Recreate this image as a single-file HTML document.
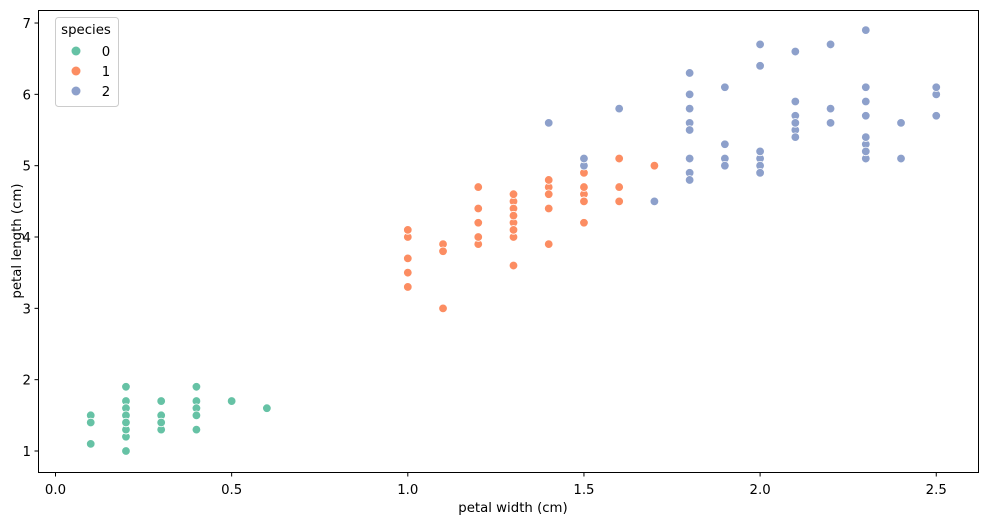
<!DOCTYPE html>
<html><head><meta charset="utf-8"><style>
body{margin:0;background:#fff;}
svg{display:block;font-family:"DejaVu Sans","Liberation Sans",sans-serif;}
</style></head><body>
<svg id="chart" width="988" height="525" xmlns="http://www.w3.org/2000/svg">
<rect x="38.5" y="10.5" width="940" height="462" fill="#fff" stroke="#000" stroke-width="1"/>
<g id="marks"></g><g id="axes"></g>
<text x="513" y="512" font-size="13.3" text-anchor="middle">petal width (cm)</text>
<text transform="translate(21,241) rotate(-90)" font-size="13.3" text-anchor="middle">petal length (cm)</text>
<g>
<rect x="55.5" y="17.5" width="63" height="89" rx="3" fill="#fff" fill-opacity="0.8" stroke="#ccc"/>
<text x="86" y="34" font-size="13.3" text-anchor="middle">species</text>
<g><circle cx="76" cy="51" r="4.5" fill="#66c2a5"/><text x="106" y="56" font-size="13.3" text-anchor="middle">0</text></g>
<g><circle cx="76" cy="71" r="4.5" fill="#fc8d62"/><text x="106" y="76" font-size="13.3" text-anchor="middle">1</text></g>
<g><circle cx="76" cy="91" r="4.5" fill="#8da0cb"/><text x="106" y="96" font-size="13.3" text-anchor="middle">2</text></g>
</g>
</svg>
<script>
const xTicks=[0.0,0.5,1.0,1.5,2.0,2.5];
const xTickLabels=["0.0","0.5","1.0","1.5","2.0","2.5"];
const yTicks=[1,2,3,4,5,6,7];
const yTickLabels=["1","2","3","4","5","6","7"];
const species0W=[.2,.2,.2,.2,.2,.4,.3,.2,.2,.1,.2,.2,.1,.1,.2,.4,.4,.3,.3,.3,.2,.4,.2,.5,.2,.2,.4,.2,.2,.2,.2,.4,.1,.2,.2,.2,.2,.1,.2,.2,.3,.3,.2,.6,.4,.3,.2,.2,.2,.2];
const species0L=[1.4,1.4,1.3,1.5,1.4,1.7,1.4,1.5,1.4,1.5,1.5,1.6,1.4,1.1,1.2,1.5,1.3,1.4,1.7,1.5,1.7,1.5,1.0,1.7,1.9,1.6,1.6,1.5,1.4,1.6,1.6,1.5,1.5,1.4,1.5,1.2,1.3,1.4,1.3,1.5,1.3,1.3,1.3,1.6,1.9,1.4,1.6,1.4,1.5,1.4];
const species1W=[1.4,1.5,1.5,1.3,1.5,1.3,1.6,1.0,1.3,1.4,1.0,1.5,1.0,1.4,1.3,1.4,1.5,1.0,1.5,1.1,1.8,1.3,1.5,1.2,1.3,1.4,1.4,1.7,1.5,1.0,1.1,1.0,1.2,1.6,1.5,1.6,1.5,1.3,1.3,1.3,1.2,1.4,1.2,1.0,1.3,1.2,1.3,1.3,1.1,1.3];
const species1L=[4.7,4.5,4.9,4.0,4.6,4.5,4.7,3.3,4.6,3.9,3.5,4.2,4.0,4.7,3.6,4.4,4.5,4.1,4.5,3.9,4.8,4.0,4.9,4.7,4.3,4.4,4.8,5.0,4.5,3.5,3.8,3.7,3.9,5.1,4.5,4.5,4.7,4.4,4.1,4.0,4.4,4.6,4.0,3.3,4.2,4.2,4.2,4.3,3.0,4.1];
const species2W=[2.5,1.9,2.1,1.8,2.2,2.1,1.7,1.8,1.8,2.5,2.0,1.9,2.1,2.0,2.4,2.3,1.8,2.2,2.3,1.5,2.3,2.0,2.0,1.8,2.1,1.8,1.8,1.8,2.1,1.6,1.9,2.0,2.2,1.5,1.4,2.3,2.4,1.8,1.8,2.1,2.4,2.3,1.9,2.3,2.5,2.3,1.9,2.0,2.3,1.8];
const species2L=[6.0,5.1,5.9,5.6,5.8,6.6,4.5,6.3,5.8,6.1,5.1,5.3,5.5,5.0,5.1,5.3,5.5,6.7,6.9,5.0,5.7,4.9,6.7,4.9,5.7,6.0,4.8,4.9,5.6,5.8,6.1,6.4,5.6,5.1,5.6,6.1,5.6,5.5,4.8,5.4,5.6,5.1,5.1,5.9,5.7,5.2,5.0,5.2,5.4,5.1];
const NS="http://www.w3.org/2000/svg";
function xs(v){return 55.5+v*352.3;}
function ys(v){return 451+(v-1)*-71.33;}
const marks=document.getElementById('marks'), axes=document.getElementById('axes');
const series=[[species0W,species0L,"#66c2a5"],[species1W,species1L,"#fc8d62"],[species2W,species2L,"#8da0cb"]];
series.forEach((s,k)=>{
  s[0].forEach((w,i)=>{
    const c=document.createElementNS(NS,'circle');
    c.setAttribute('cx',xs(w));c.setAttribute('cy',ys(s[1][i]));c.setAttribute('r',4.3);
    c.setAttribute('fill',s[2]);c.setAttribute('stroke','#fff');c.setAttribute('stroke-width',0.8);
    
    
    marks.appendChild(c);
  });
});
xTicks.forEach((t,i)=>{
  const x=xs(t);
  const l=document.createElementNS(NS,'line');
  l.setAttribute('x1',x);l.setAttribute('x2',x);l.setAttribute('y1',472.5);l.setAttribute('y2',476.5);l.setAttribute('stroke','#000');
  
  
  axes.appendChild(l);
  const tx=document.createElementNS(NS,'text');
  tx.setAttribute('x',x);tx.setAttribute('y',494);tx.setAttribute('font-size',13.3);tx.setAttribute('text-anchor','middle');
  tx.textContent=xTickLabels[i];
  
  
  axes.appendChild(tx);
});
yTicks.forEach((t,i)=>{
  const y=ys(t);
  const l=document.createElementNS(NS,'line');
  l.setAttribute('x1',34.5);l.setAttribute('x2',38.5);l.setAttribute('y1',y);l.setAttribute('y2',y);l.setAttribute('stroke','#000');
  
  
  axes.appendChild(l);
  const tx=document.createElementNS(NS,'text');
  tx.setAttribute('x',31);tx.setAttribute('y',y+5);tx.setAttribute('font-size',13.3);tx.setAttribute('text-anchor','end');
  tx.textContent=yTickLabels[i];
  
  
  axes.appendChild(tx);
});
</script>
</body></html>
